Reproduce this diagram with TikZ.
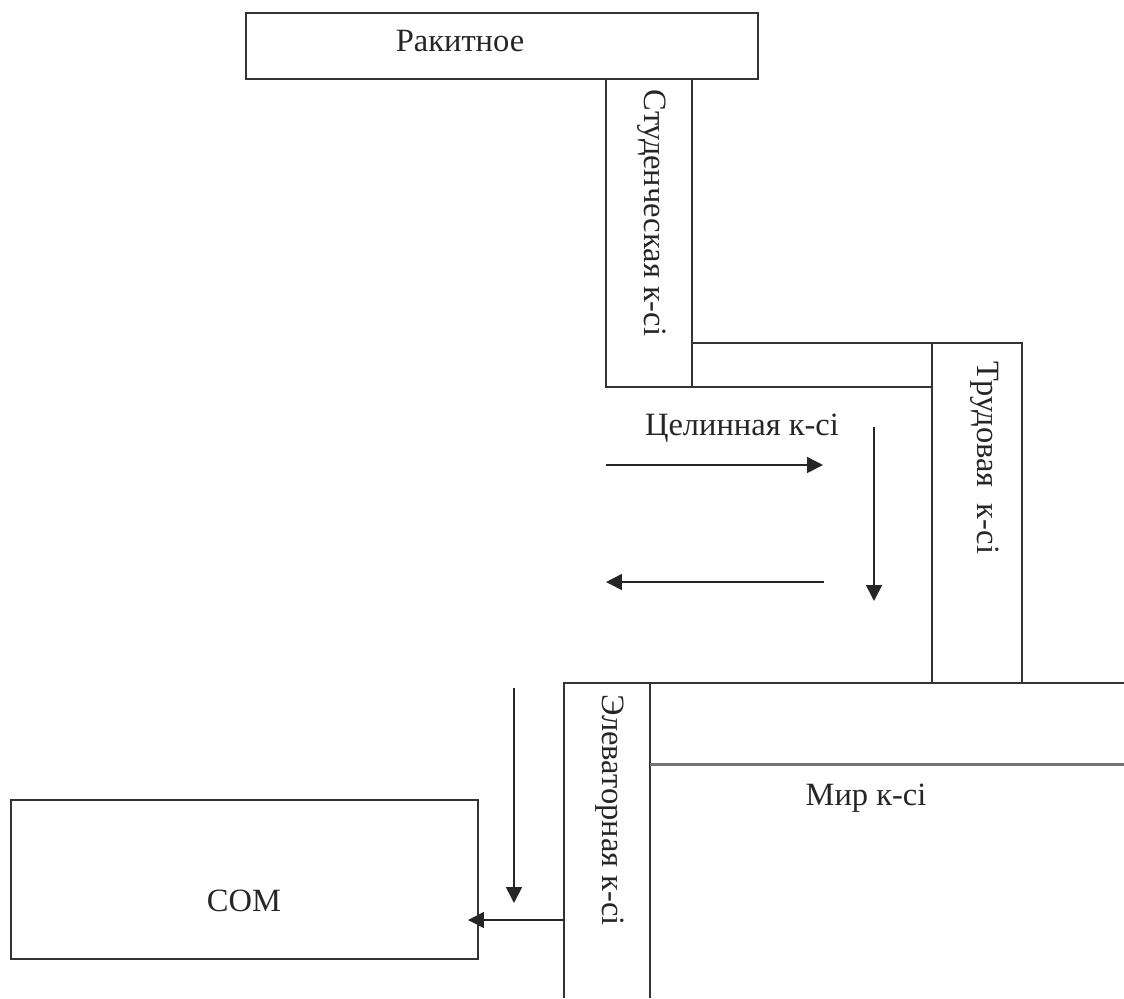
\documentclass[tikz,border=0pt]{standalone}
\usepackage{fontspec}
\setmainfont{Liberation Serif}
\usetikzlibrary{arrows.meta}
\definecolor{roadline}{HTML}{333333}
\tikzset{
	box/.style={draw=roadline, line width=1.1pt, inner sep=0pt, outer sep=0pt},
	caption/.style={font=\fontsize{18.5}{20}\selectfont, text=black!85, inner sep=0pt},
	road/.style={draw=roadline, line width=1.1pt},
	way/.style={draw=black!85, line width=0.85pt, -{Triangle[length=9pt,width=9pt]}}
}
\begin{document}
\begin{tikzpicture}[x=0.02cm, y=-0.02cm]
	\useasboundingbox (0,0) rectangle (1124,998);

	%Boxes
	\node[box, minimum width=10.24cm, minimum height=1.32cm] (rakitnoe) at (502,46) {};
	\node[box, minimum width=9.34cm, minimum height=3.18cm] (som) at (244.5,879.5) {};
	\node[box, minimum width=1.72cm, minimum height=6.16cm] (student) at (649,233) {};
	\node[box, minimum width=1.8cm, minimum height=6.8cm] (trud) at (977,513) {};

	%Celinnaya road between the two boxes
	\draw[road] (student.east |- trud.north west) -- (trud.north west);
	\draw[road] (student.south east) -- (student.south east -| trud.west);
	\draw[road, line width=1.5pt] (student.south west) -- ++(0,-44);

	%Elevator and Mir roads run off the page
	\coordinate (elevNW) at (564,683);
	\coordinate (elevNE) at (650,683);
	\coordinate (elevSW) at (564,998);
	\coordinate (elevSE) at (650,998);
	\coordinate (mirNE) at (1124,683);
	\coordinate (mirSW) at (650,764);
	\coordinate (mirSE) at (1124,764);
	\draw[road] (elevSW) -- (elevNW) -- (mirNE);
	\draw[road] (elevNE) -- (elevSE);
	\draw[road, draw=black!55, line width=1.7pt] (mirSW) -- (mirSE);

	%Labels
	\node[caption] (rakitnoeL) at (460,41) {Ракитное};
	\node[caption, rotate=-90] (studentL) at (652,213) {Студенческая к-сі};
	\node[caption] (celinL) at (742,428) {Целинная к-сі};
	\node[caption, rotate=-90] (trudL) at (985,458) {Трудовая\ \ к-сі};
	\node[caption, rotate=-90] (elevL) at (610,810) {Элеваторная к-сі};
	\node[caption] (mirL) at (866,798) {Мир к-сі};
	\node[caption] (somL) at (244,901) {СОМ};

	%Arrows
	\coordinate (a1) at (606,465);
	\coordinate (a2) at (823,465);
	\coordinate (b1) at (824,582);
	\coordinate (b2) at (606,582);
	\coordinate (c1) at (874,427);
	\coordinate (c2) at (874,601);
	\coordinate (d1) at (514,688);
	\coordinate (d2) at (514,903);
	\coordinate (e1) at (564,920);
	\coordinate (e2) at (468,920);
	\draw[way] (a1) -- (a2);
	\draw[way] (b1) -- (b2);
	\draw[way] (c1) -- (c2);
	\draw[way] (d1) -- (d2);
	\draw[way] (e1) -- (e2);
\end{tikzpicture}
\end{document}
